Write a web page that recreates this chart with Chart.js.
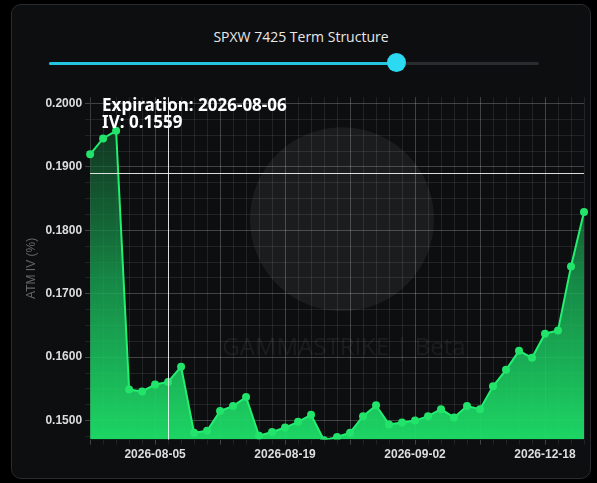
<!DOCTYPE html>
<html>
<head>
<meta charset="utf-8">
<script src="https://cdn.jsdelivr.net/npm/chart.js@4"></script>
<style>
  html, body { margin: 0; padding: 0; background: #000; width: 597px; height: 483px; overflow: hidden; font-family: "Open Sans", sans-serif; }
  .card { position: absolute; left: 11px; top: 4px; width: 578px; height: 473px; background: #0d0e10; border: 1px solid #2a2b2e; border-radius: 10px; }
  .title { position: absolute; left: 0; width: 100%; top: 22px; text-align: center; color: #e8e8e8; font-size: 14px; }
  .track { position: absolute; left: 37px; top: 57px; width: 490px; height: 3px; background: #2a2b2e; border-radius: 2px; }
  .fill { position: absolute; left: 0; top: 0; width: 347px; height: 3px; background: #22c4e0; border-radius: 2px; }
  .knob { position: absolute; left: 375px; top: 48px; width: 19px; height: 19px; border-radius: 50%; background: #2bd9f0; }
  .wrap { position: absolute; left: 4px; top: 82px; width: 572px; height: 378px; }
</style>
</head>
<body>
<div class="card">
  <div class="title">SPXW 7425 Term Structure</div>
  <div class="track"><div class="fill"></div></div>
  <div class="knob"></div>
  <div class="wrap"><canvas id="chartCanvas"></canvas></div>
</div>
<script>
const expirations = [
  '2026-07-29','2026-07-30','2026-07-31','2026-08-03','2026-08-04','2026-08-05','2026-08-06','2026-08-07','2026-08-10','2026-08-11',
  '2026-08-12','2026-08-13','2026-08-14','2026-08-17','2026-08-18','2026-08-19','2026-08-20','2026-08-21','2026-08-24','2026-08-25',
  '2026-08-26','2026-08-27','2026-08-28','2026-08-31','2026-09-01','2026-09-02','2026-09-03','2026-09-04','2026-09-08','2026-09-09',
  '2026-09-18','2026-09-30','2026-10-16','2026-10-30','2026-11-20','2026-12-18','2026-12-31','2027-01-15','2027-03-19'
];
const atmIV = [
  0.1920, 0.1945, 0.1957, 0.1549, 0.1546, 0.1557, 0.1561, 0.1585, 0.1481, 0.1484,
  0.1515, 0.1523, 0.1537, 0.1476, 0.1482, 0.1489, 0.1498, 0.1509, 0.1469, 0.1474,
  0.1481, 0.1507, 0.1524, 0.1494, 0.1497, 0.1500, 0.1507, 0.1518, 0.1505, 0.1523,
  0.1518, 0.1554, 0.1580, 0.1610, 0.1599, 0.1637, 0.1642, 0.1743, 0.1829
];
const hoverIndex = 6;
const hoverIV = 0.1559;
const hoverY = 0.1890;

const overlay = {
  id: 'overlay',
  beforeDatasetsDraw(chart) {
    const { ctx, chartArea: a } = chart;
    ctx.save();
    const cx = a.left + (a.right - a.left) * 0.51, cy = a.top + 122;
    ctx.fillStyle = 'rgba(255,255,255,0.06)';
    ctx.beginPath(); ctx.arc(cx, cy, 92, 0, Math.PI * 2); ctx.fill();
    ctx.fillStyle = 'rgba(255,255,255,0.06)';
    ctx.font = '24px "Open Sans"';
    ctx.textAlign = 'center';
    ctx.fillText('GAMMASTRIKE | Beta', cx + 2, a.top + 258);
    ctx.restore();
  },
  afterDraw(chart) {
    const { ctx, chartArea: a, scales } = chart;
    const x = Math.round(scales.x.getPixelForValue(hoverIndex)) + 0.5;
    const y = Math.round(scales.y.getPixelForValue(hoverY)) + 0.5;
    ctx.save();
    ctx.strokeStyle = 'rgba(255,255,255,0.85)';
    ctx.lineWidth = 1;
    ctx.beginPath();
    ctx.moveTo(x, a.top); ctx.lineTo(x, a.bottom);
    ctx.moveTo(a.left, y); ctx.lineTo(a.right, y);
    ctx.stroke();
    ctx.fillStyle = '#fff';
    ctx.font = 'bold 17px "Noto Sans"';
    ctx.textBaseline = 'top';
    ctx.fillText('Expiration: ' + expirations[hoverIndex], a.left + 12, a.top);
    ctx.fillText('IV: ' + hoverIV.toFixed(4), a.left + 12, a.top + 17);
    ctx.restore();
  }
};

const isMajor = (v) => Math.abs(v * 100 - Math.round(v * 100)) < 1e-6;

const ctx = document.getElementById('chartCanvas');
new Chart(ctx, {
  type: 'line',
  data: {
    labels: expirations,
    datasets: [{
      data: atmIV,
      borderColor: '#22f070',
      borderWidth: 2,
      pointRadius: 4,
      pointBackgroundColor: '#22e46a',
      pointBorderWidth: 0,
      fill: 'start',
      backgroundColor: (c) => {
        const a = c.chart.chartArea;
        if (!a) return 'rgba(30,220,100,0.5)';
        const g = c.chart.ctx.createLinearGradient(0, a.top, 0, a.bottom);
        g.addColorStop(0, 'rgba(20,60,35,0.6)');
        g.addColorStop(0.55, 'rgba(25,170,85,0.8)');
        g.addColorStop(1, 'rgba(30,225,105,0.95)');
        return g;
      },
      tension: 0
    }]
  },
  options: {
    responsive: true,
    maintainAspectRatio: false,
    animation: false,
    layout: { padding: { right: 4, left: 4 } },
    plugins: { legend: { display: false }, tooltip: { enabled: false } },
    scales: {
      x: {
        offset: false,
        grid: {
          color: (c) => (c.index % 5 === 0 ? 'rgba(255,255,255,0.22)' : 'rgba(255,255,255,0.09)'),
          drawTicks: true, tickLength: 5
        },
        ticks: {
          autoSkip: false, maxRotation: 0, color: '#ddd', font: { size: 12, weight: 'bold' },
          callback: (v, i) => (i % 10 === 5 ? expirations[i] : '')
        }
      },
      y: {
        min: 0.147, max: 0.201,
        afterBuildTicks: (scale) => {
          const t = [];
          for (let k = 0; k * 0.0025 + 0.1475 <= 0.2009; k++) t.push({ value: +(0.1475 + k * 0.0025).toFixed(4) });
          scale.ticks = t;
        },
        title: { display: true, text: 'ATM IV (%)', color: '#666', font: { size: 12 } },
        grid: {
          color: (c) => (isMajor(c.tick.value) ? 'rgba(255,255,255,0.22)' : 'rgba(255,255,255,0.09)'),
          tickLength: 5
        },
        ticks: {
          autoSkip: false, color: '#ddd', font: { size: 12, weight: 'bold' },
          callback: (v) => (isMajor(v) ? v.toFixed(4) : '')
        }
      }
    }
  },
  plugins: [overlay]
});
</script>
</body>
</html>
